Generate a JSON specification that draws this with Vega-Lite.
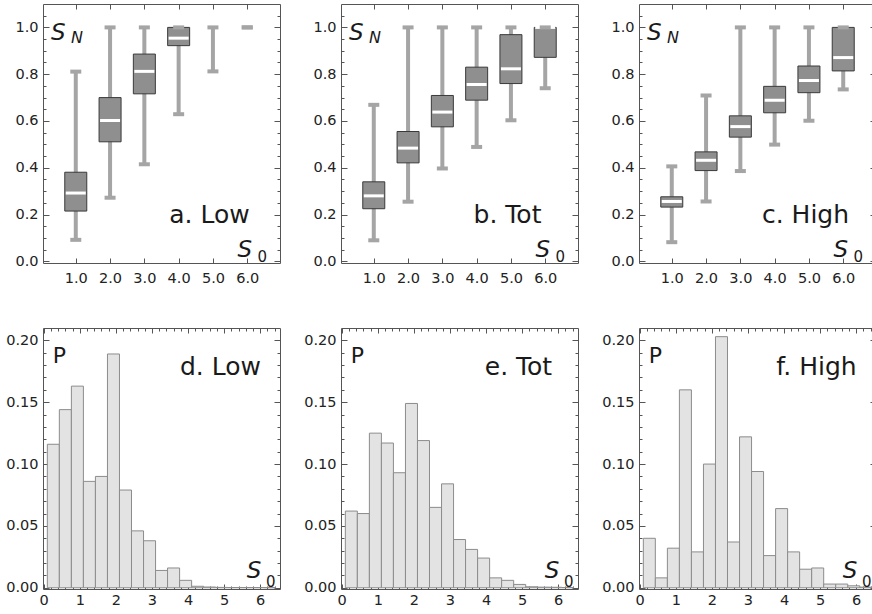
{
"$schema":"https://vega.github.io/schema/vega-lite/v6.json",
"padding":{"left":2,"top":3,"right":0,"bottom":0},
"background":"white",
"config":{"view":{"stroke":"#555","strokeWidth":1},
"axis":{"domain":false,"grid":false,"tickColor":"#555","tickWidth":1,"labelFont":"DejaVu Sans","labelFontSize":14.5,"labelColor":"#222","labelFlush":false,"labelOverlap":false,"zindex":1}},
"datasets":{
"box":[
{"panel":"Low","s0":1,"lo":0.092,"q1":0.215,"med":0.292,"q3":0.381,"hi":0.811},
{"panel":"Low","s0":2,"lo":0.272,"q1":0.511,"med":0.602,"q3":0.700,"hi":1.0},
{"panel":"Low","s0":3,"lo":0.415,"q1":0.716,"med":0.812,"q3":0.886,"hi":1.0},
{"panel":"Low","s0":4,"lo":0.629,"q1":0.922,"med":0.954,"q3":1.0,"hi":1.0},
{"panel":"Low","s0":5,"lo":0.812,"q1":null,"med":null,"q3":null,"hi":1.0},
{"panel":"Low","s0":6,"lo":1.0,"q1":null,"med":null,"q3":null,"hi":1.0},
{"panel":"Tot","s0":1,"lo":0.090,"q1":0.225,"med":0.280,"q3":0.340,"hi":0.669},
{"panel":"Tot","s0":2,"lo":0.255,"q1":0.421,"med":0.484,"q3":0.555,"hi":1.0},
{"panel":"Tot","s0":3,"lo":0.397,"q1":0.575,"med":0.638,"q3":0.709,"hi":1.0},
{"panel":"Tot","s0":4,"lo":0.489,"q1":0.689,"med":0.756,"q3":0.830,"hi":1.0},
{"panel":"Tot","s0":5,"lo":0.603,"q1":0.760,"med":0.823,"q3":0.969,"hi":1.0},
{"panel":"Tot","s0":6,"lo":0.740,"q1":0.872,"med":1.0,"q3":1.0,"hi":1.0},
{"panel":"High","s0":1,"lo":0.082,"q1":0.232,"med":0.256,"q3":0.276,"hi":0.406},
{"panel":"High","s0":2,"lo":0.256,"q1":0.388,"med":0.432,"q3":0.468,"hi":0.709},
{"panel":"High","s0":3,"lo":0.386,"q1":0.531,"med":0.576,"q3":0.622,"hi":1.0},
{"panel":"High","s0":4,"lo":0.499,"q1":0.635,"med":0.689,"q3":0.748,"hi":1.0},
{"panel":"High","s0":5,"lo":0.601,"q1":0.721,"med":0.773,"q3":0.835,"hi":1.0},
{"panel":"High","s0":6,"lo":0.735,"q1":0.814,"med":0.871,"q3":1.0,"hi":1.0}
],
"hist":[
{"panel":"Low","x0":0.1,"x1":0.433,"p":0.116},
{"panel":"Low","x0":0.433,"x1":0.767,"p":0.144},
{"panel":"Low","x0":0.767,"x1":1.1,"p":0.163},
{"panel":"Low","x0":1.1,"x1":1.433,"p":0.086},
{"panel":"Low","x0":1.433,"x1":1.767,"p":0.090},
{"panel":"Low","x0":1.767,"x1":2.1,"p":0.189},
{"panel":"Low","x0":2.1,"x1":2.433,"p":0.079},
{"panel":"Low","x0":2.433,"x1":2.767,"p":0.046},
{"panel":"Low","x0":2.767,"x1":3.1,"p":0.038},
{"panel":"Low","x0":3.1,"x1":3.433,"p":0.014},
{"panel":"Low","x0":3.433,"x1":3.767,"p":0.016},
{"panel":"Low","x0":3.767,"x1":4.1,"p":0.006},
{"panel":"Low","x0":4.1,"x1":4.433,"p":0.0012},
{"panel":"Low","x0":4.433,"x1":4.767,"p":0.0006},
{"panel":"Low","x0":4.767,"x1":5.1,"p":0.0003},
{"panel":"Low","x0":5.1,"x1":5.433,"p":0.0002},
{"panel":"Low","x0":5.433,"x1":5.767,"p":0.0002},
{"panel":"Low","x0":5.767,"x1":6.1,"p":0.0002},
{"panel":"Low","x0":6.1,"x1":6.433,"p":0.0001},
{"panel":"Tot","x0":0.1,"x1":0.433,"p":0.062},
{"panel":"Tot","x0":0.433,"x1":0.767,"p":0.060},
{"panel":"Tot","x0":0.767,"x1":1.1,"p":0.125},
{"panel":"Tot","x0":1.1,"x1":1.433,"p":0.117},
{"panel":"Tot","x0":1.433,"x1":1.767,"p":0.093},
{"panel":"Tot","x0":1.767,"x1":2.1,"p":0.149},
{"panel":"Tot","x0":2.1,"x1":2.433,"p":0.119},
{"panel":"Tot","x0":2.433,"x1":2.767,"p":0.065},
{"panel":"Tot","x0":2.767,"x1":3.1,"p":0.084},
{"panel":"Tot","x0":3.1,"x1":3.433,"p":0.039},
{"panel":"Tot","x0":3.433,"x1":3.767,"p":0.031},
{"panel":"Tot","x0":3.767,"x1":4.1,"p":0.024},
{"panel":"Tot","x0":4.1,"x1":4.433,"p":0.008},
{"panel":"Tot","x0":4.433,"x1":4.767,"p":0.006},
{"panel":"Tot","x0":4.767,"x1":5.1,"p":0.0027},
{"panel":"Tot","x0":5.1,"x1":5.433,"p":0.0008},
{"panel":"Tot","x0":5.433,"x1":5.767,"p":0.0005},
{"panel":"Tot","x0":5.767,"x1":6.1,"p":0.0004},
{"panel":"Tot","x0":6.1,"x1":6.433,"p":0.0002},
{"panel":"High","x0":0.1,"x1":0.433,"p":0.040},
{"panel":"High","x0":0.433,"x1":0.767,"p":0.008},
{"panel":"High","x0":0.767,"x1":1.1,"p":0.032},
{"panel":"High","x0":1.1,"x1":1.433,"p":0.160},
{"panel":"High","x0":1.433,"x1":1.767,"p":0.029},
{"panel":"High","x0":1.767,"x1":2.1,"p":0.100},
{"panel":"High","x0":2.1,"x1":2.433,"p":0.203},
{"panel":"High","x0":2.433,"x1":2.767,"p":0.037},
{"panel":"High","x0":2.767,"x1":3.1,"p":0.122},
{"panel":"High","x0":3.1,"x1":3.433,"p":0.094},
{"panel":"High","x0":3.433,"x1":3.767,"p":0.026},
{"panel":"High","x0":3.767,"x1":4.1,"p":0.064},
{"panel":"High","x0":4.1,"x1":4.433,"p":0.029},
{"panel":"High","x0":4.433,"x1":4.767,"p":0.015},
{"panel":"High","x0":4.767,"x1":5.1,"p":0.016},
{"panel":"High","x0":5.1,"x1":5.433,"p":0.003},
{"panel":"High","x0":5.433,"x1":5.767,"p":0.003},
{"panel":"High","x0":5.767,"x1":6.1,"p":0.0016},
{"panel":"High","x0":6.1,"x1":6.433,"p":0.0005}
]},
"spacing":38,
"vconcat":[
{"spacing":19,"hconcat":[
{"width":237,"height":259,"data":{"name":"box"},"transform":[{"filter":"datum.panel == 'Low'"}],
"resolve":{"axis":{"x":"independent","y":"independent"}},
"layer":[
{"mark":{"type":"rule","color":"#a5a5a5","strokeWidth":4},
"encoding":{"x":{"field":"s0","type":"quantitative","scale":{"domain":[0.19,6.81],"nice":false,"zero":false},"axis":{"orient":"bottom","values":[1,2,3,4,5,6],"format":".1f","tickSize":-5,"labelPadding":13,"title":null,"minExtent":25,"maxExtent":25}},
"y":{"field":"lo","type":"quantitative","scale":{"domain":[-0.007,1.1],"nice":false,"zero":false},"axis":{"orient":"left","values":[0,0.2,0.4,0.6,0.8,1],"format":".1f","tickSize":-6,"labelPadding":11,"title":null,"minExtent":40,"maxExtent":40}},
"y2":{"field":"hi"}}},
{"mark":{"type":"bar","size":22,"fill":"#8f8f8f","stroke":"#3a3a3a","strokeWidth":1},
"encoding":{"x":{"field":"s0","type":"quantitative","axis":{"orient":"top","values":[1,2,3,4,5,6],"labels":false,"tickSize":-5,"title":null,"minExtent":0,"maxExtent":0}},
"y":{"field":"q1","type":"quantitative","axis":{"orient":"right","values":[0,0.2,0.4,0.6,0.8,1],"labels":false,"tickSize":-6,"title":null,"minExtent":0,"maxExtent":0}},"y2":{"field":"q3"}}},
{"mark":{"type":"tick","orient":"horizontal","color":"#ffffff","opacity":1,"size":20,"thickness":3},
"encoding":{"x":{"field":"s0","type":"quantitative","axis":null},"y":{"field":"med","type":"quantitative","axis":{"orient":"left","values":[0.05,0.1,0.15,0.25,0.3,0.35,0.45,0.5,0.55,0.65,0.7,0.75,0.85,0.9,0.95,1.05],"labels":false,"tickSize":-3,"title":null,"minExtent":0,"maxExtent":0}}}},
{"mark":{"type":"tick","orient":"horizontal","color":"#a5a5a5","opacity":1,"size":11,"thickness":4},
"encoding":{"x":{"field":"s0","type":"quantitative","axis":null},"y":{"field":"lo","type":"quantitative","axis":{"orient":"right","values":[0.05,0.1,0.15,0.25,0.3,0.35,0.45,0.5,0.55,0.65,0.7,0.75,0.85,0.9,0.95,1.05],"labels":false,"tickSize":-3,"title":null,"minExtent":0,"maxExtent":0}}}},
{"mark":{"type":"tick","orient":"horizontal","color":"#a5a5a5","opacity":1,"size":11,"thickness":4},
"encoding":{"x":{"field":"s0","type":"quantitative","axis":null},"y":{"field":"hi","type":"quantitative","axis":null}}},
{"transform":[{"filter":"datum.s0 == 1"}],"mark":{"type":"text","text":"S","font":"DejaVu Sans","fontStyle":"italic","fontSize":23,"align":"left","baseline":"alphabetic","color":"#1a1a1a"},
"encoding":{"x":{"datum":0.28,"type":"quantitative","axis":null},"y":{"datum":0.946,"type":"quantitative","axis":null}}},
{"transform":[{"filter":"datum.s0 == 1"}],"mark":{"type":"text","text":"N","font":"DejaVu Sans","fontStyle":"italic","fontSize":16,"align":"left","baseline":"alphabetic","color":"#1a1a1a"},
"encoding":{"x":{"datum":0.86,"type":"quantitative","axis":null},"y":{"datum":0.932,"type":"quantitative","axis":null}}},
{"transform":[{"filter":"datum.s0 == 1"}],"mark":{"type":"text","text":"a. Low","font":"DejaVu Sans","fontSize":25,"align":"center","baseline":"alphabetic","color":"#1a1a1a"},
"encoding":{"x":{"datum":4.9,"type":"quantitative","axis":null},"y":{"datum":0.164,"type":"quantitative","axis":null}}},
{"transform":[{"filter":"datum.s0 == 1"}],"mark":{"type":"text","text":"S","font":"DejaVu Sans","fontStyle":"italic","fontSize":23,"align":"left","baseline":"alphabetic","color":"#1a1a1a"},
"encoding":{"x":{"datum":5.72,"type":"quantitative","axis":null},"y":{"datum":0.018,"type":"quantitative","axis":null}}},
{"transform":[{"filter":"datum.s0 == 1"}],"mark":{"type":"text","text":"0","font":"DejaVu Sans","fontSize":15,"align":"left","baseline":"alphabetic","color":"#1a1a1a"},
"encoding":{"x":{"datum":6.3,"type":"quantitative","axis":null},"y":{"datum":-0.003,"type":"quantitative","axis":null}}}
]},
{"width":237,"height":259,"data":{"name":"box"},"transform":[{"filter":"datum.panel == 'Tot'"}],
"resolve":{"axis":{"x":"independent","y":"independent"}},
"layer":[
{"mark":{"type":"rule","color":"#a5a5a5","strokeWidth":4},
"encoding":{"x":{"field":"s0","type":"quantitative","scale":{"domain":[0.19,6.81],"nice":false,"zero":false},"axis":{"orient":"bottom","values":[1,2,3,4,5,6],"format":".1f","tickSize":-5,"labelPadding":13,"title":null,"minExtent":25,"maxExtent":25}},
"y":{"field":"lo","type":"quantitative","scale":{"domain":[-0.007,1.1],"nice":false,"zero":false},"axis":{"orient":"left","values":[0,0.2,0.4,0.6,0.8,1],"format":".1f","tickSize":-6,"labelPadding":11,"title":null,"minExtent":40,"maxExtent":40}},
"y2":{"field":"hi"}}},
{"mark":{"type":"bar","size":22,"fill":"#8f8f8f","stroke":"#3a3a3a","strokeWidth":1},
"encoding":{"x":{"field":"s0","type":"quantitative","axis":{"orient":"top","values":[1,2,3,4,5,6],"labels":false,"tickSize":-5,"title":null,"minExtent":0,"maxExtent":0}},
"y":{"field":"q1","type":"quantitative","axis":{"orient":"right","values":[0,0.2,0.4,0.6,0.8,1],"labels":false,"tickSize":-6,"title":null,"minExtent":0,"maxExtent":0}},"y2":{"field":"q3"}}},
{"mark":{"type":"tick","orient":"horizontal","color":"#ffffff","opacity":1,"size":20,"thickness":3},
"encoding":{"x":{"field":"s0","type":"quantitative","axis":null},"y":{"field":"med","type":"quantitative","axis":{"orient":"left","values":[0.05,0.1,0.15,0.25,0.3,0.35,0.45,0.5,0.55,0.65,0.7,0.75,0.85,0.9,0.95,1.05],"labels":false,"tickSize":-3,"title":null,"minExtent":0,"maxExtent":0}}}},
{"mark":{"type":"tick","orient":"horizontal","color":"#a5a5a5","opacity":1,"size":11,"thickness":4},
"encoding":{"x":{"field":"s0","type":"quantitative","axis":null},"y":{"field":"lo","type":"quantitative","axis":{"orient":"right","values":[0.05,0.1,0.15,0.25,0.3,0.35,0.45,0.5,0.55,0.65,0.7,0.75,0.85,0.9,0.95,1.05],"labels":false,"tickSize":-3,"title":null,"minExtent":0,"maxExtent":0}}}},
{"mark":{"type":"tick","orient":"horizontal","color":"#a5a5a5","opacity":1,"size":11,"thickness":4},
"encoding":{"x":{"field":"s0","type":"quantitative","axis":null},"y":{"field":"hi","type":"quantitative","axis":null}}},
{"transform":[{"filter":"datum.s0 == 1"}],"mark":{"type":"text","text":"S","font":"DejaVu Sans","fontStyle":"italic","fontSize":23,"align":"left","baseline":"alphabetic","color":"#1a1a1a"},
"encoding":{"x":{"datum":0.28,"type":"quantitative","axis":null},"y":{"datum":0.946,"type":"quantitative","axis":null}}},
{"transform":[{"filter":"datum.s0 == 1"}],"mark":{"type":"text","text":"N","font":"DejaVu Sans","fontStyle":"italic","fontSize":16,"align":"left","baseline":"alphabetic","color":"#1a1a1a"},
"encoding":{"x":{"datum":0.86,"type":"quantitative","axis":null},"y":{"datum":0.932,"type":"quantitative","axis":null}}},
{"transform":[{"filter":"datum.s0 == 1"}],"mark":{"type":"text","text":"b. Tot","font":"DejaVu Sans","fontSize":25,"align":"center","baseline":"alphabetic","color":"#1a1a1a"},
"encoding":{"x":{"datum":4.9,"type":"quantitative","axis":null},"y":{"datum":0.164,"type":"quantitative","axis":null}}},
{"transform":[{"filter":"datum.s0 == 1"}],"mark":{"type":"text","text":"S","font":"DejaVu Sans","fontStyle":"italic","fontSize":23,"align":"left","baseline":"alphabetic","color":"#1a1a1a"},
"encoding":{"x":{"datum":5.72,"type":"quantitative","axis":null},"y":{"datum":0.018,"type":"quantitative","axis":null}}},
{"transform":[{"filter":"datum.s0 == 1"}],"mark":{"type":"text","text":"0","font":"DejaVu Sans","fontSize":15,"align":"left","baseline":"alphabetic","color":"#1a1a1a"},
"encoding":{"x":{"datum":6.3,"type":"quantitative","axis":null},"y":{"datum":-0.003,"type":"quantitative","axis":null}}}
]},
{"width":237,"height":259,"data":{"name":"box"},"transform":[{"filter":"datum.panel == 'High'"}],
"resolve":{"axis":{"x":"independent","y":"independent"}},
"layer":[
{"mark":{"type":"rule","color":"#a5a5a5","strokeWidth":4},
"encoding":{"x":{"field":"s0","type":"quantitative","scale":{"domain":[0.19,6.81],"nice":false,"zero":false},"axis":{"orient":"bottom","values":[1,2,3,4,5,6],"format":".1f","tickSize":-5,"labelPadding":13,"title":null,"minExtent":25,"maxExtent":25}},
"y":{"field":"lo","type":"quantitative","scale":{"domain":[-0.007,1.1],"nice":false,"zero":false},"axis":{"orient":"left","values":[0,0.2,0.4,0.6,0.8,1],"format":".1f","tickSize":-6,"labelPadding":11,"title":null,"minExtent":40,"maxExtent":40}},
"y2":{"field":"hi"}}},
{"mark":{"type":"bar","size":22,"fill":"#8f8f8f","stroke":"#3a3a3a","strokeWidth":1},
"encoding":{"x":{"field":"s0","type":"quantitative","axis":{"orient":"top","values":[1,2,3,4,5,6],"labels":false,"tickSize":-5,"title":null,"minExtent":0,"maxExtent":0}},
"y":{"field":"q1","type":"quantitative","axis":{"orient":"right","values":[0,0.2,0.4,0.6,0.8,1],"labels":false,"tickSize":-6,"title":null,"minExtent":0,"maxExtent":0}},"y2":{"field":"q3"}}},
{"mark":{"type":"tick","orient":"horizontal","color":"#ffffff","opacity":1,"size":20,"thickness":3},
"encoding":{"x":{"field":"s0","type":"quantitative","axis":null},"y":{"field":"med","type":"quantitative","axis":{"orient":"left","values":[0.05,0.1,0.15,0.25,0.3,0.35,0.45,0.5,0.55,0.65,0.7,0.75,0.85,0.9,0.95,1.05],"labels":false,"tickSize":-3,"title":null,"minExtent":0,"maxExtent":0}}}},
{"mark":{"type":"tick","orient":"horizontal","color":"#a5a5a5","opacity":1,"size":11,"thickness":4},
"encoding":{"x":{"field":"s0","type":"quantitative","axis":null},"y":{"field":"lo","type":"quantitative","axis":{"orient":"right","values":[0.05,0.1,0.15,0.25,0.3,0.35,0.45,0.5,0.55,0.65,0.7,0.75,0.85,0.9,0.95,1.05],"labels":false,"tickSize":-3,"title":null,"minExtent":0,"maxExtent":0}}}},
{"mark":{"type":"tick","orient":"horizontal","color":"#a5a5a5","opacity":1,"size":11,"thickness":4},
"encoding":{"x":{"field":"s0","type":"quantitative","axis":null},"y":{"field":"hi","type":"quantitative","axis":null}}},
{"transform":[{"filter":"datum.s0 == 1"}],"mark":{"type":"text","text":"S","font":"DejaVu Sans","fontStyle":"italic","fontSize":23,"align":"left","baseline":"alphabetic","color":"#1a1a1a"},
"encoding":{"x":{"datum":0.28,"type":"quantitative","axis":null},"y":{"datum":0.946,"type":"quantitative","axis":null}}},
{"transform":[{"filter":"datum.s0 == 1"}],"mark":{"type":"text","text":"N","font":"DejaVu Sans","fontStyle":"italic","fontSize":16,"align":"left","baseline":"alphabetic","color":"#1a1a1a"},
"encoding":{"x":{"datum":0.86,"type":"quantitative","axis":null},"y":{"datum":0.932,"type":"quantitative","axis":null}}},
{"transform":[{"filter":"datum.s0 == 1"}],"mark":{"type":"text","text":"c. High","font":"DejaVu Sans","fontSize":25,"align":"center","baseline":"alphabetic","color":"#1a1a1a"},
"encoding":{"x":{"datum":4.9,"type":"quantitative","axis":null},"y":{"datum":0.164,"type":"quantitative","axis":null}}},
{"transform":[{"filter":"datum.s0 == 1"}],"mark":{"type":"text","text":"S","font":"DejaVu Sans","fontStyle":"italic","fontSize":23,"align":"left","baseline":"alphabetic","color":"#1a1a1a"},
"encoding":{"x":{"datum":5.72,"type":"quantitative","axis":null},"y":{"datum":0.018,"type":"quantitative","axis":null}}},
{"transform":[{"filter":"datum.s0 == 1"}],"mark":{"type":"text","text":"0","font":"DejaVu Sans","fontSize":15,"align":"left","baseline":"alphabetic","color":"#1a1a1a"},
"encoding":{"x":{"datum":6.3,"type":"quantitative","axis":null},"y":{"datum":-0.003,"type":"quantitative","axis":null}}}
]}
]},
{"spacing":19,"hconcat":[
{"width":237,"height":261,"data":{"name":"hist"},"transform":[{"filter":"datum.panel == 'Low'"}],
"resolve":{"axis":{"x":"independent","y":"independent"}},
"layer":[
{"mark":{"type":"rect","fill":"#e3e3e3","stroke":"#8c8c8c","strokeWidth":1,"clip":true},
"encoding":{"x":{"field":"x0","type":"quantitative","scale":{"domain":[-0.02,6.55],"nice":false,"zero":false},"axis":{"orient":"bottom","values":[0,1,2,3,4,5,6],"format":"d","tickSize":-5,"labelPadding":9,"title":null,"minExtent":25,"maxExtent":25}},
"x2":{"field":"x1"},
"y":{"field":"p","type":"quantitative","scale":{"domain":[-0.001,0.21],"nice":false,"zero":false},"axis":{"orient":"left","values":[0,0.05,0.1,0.15,0.2],"format":".2f","tickSize":-6,"labelPadding":11,"title":null,"minExtent":40,"maxExtent":40}},
"y2":{"datum":0}}},
{"transform":[{"filter":"datum.x0 == 0.1"}],"mark":{"type":"text","text":"P","font":"DejaVu Sans","fontSize":22,"align":"left","baseline":"alphabetic","color":"#1a1a1a"},
"encoding":{"x":{"datum":0.25,"type":"quantitative","axis":{"orient":"top","values":[0,1,2,3,4,5,6],"labels":false,"tickSize":-5,"title":null,"minExtent":0,"maxExtent":0}},"y":{"datum":0.182,"type":"quantitative","axis":{"orient":"right","values":[0,0.05,0.1,0.15,0.2],"labels":false,"tickSize":-6,"title":null,"minExtent":0,"maxExtent":0}}}},
{"transform":[{"filter":"datum.x0 == 0.1"}],"mark":{"type":"text","text":"d. Low","font":"DejaVu Sans","fontSize":25,"align":"center","baseline":"alphabetic","color":"#1a1a1a"},
"encoding":{"x":{"datum":4.9,"type":"quantitative","axis":{"orient":"bottom","values":[0.2,0.4,0.6,0.8,1.2,1.4,1.6,1.8,2.2,2.4,2.6,2.8,3.2,3.4,3.6,3.8,4.2,4.4,4.6,4.8,5.2,5.4,5.6,5.8,6.2,6.4],"labels":false,"tickSize":-3,"title":null,"minExtent":0,"maxExtent":0}},"y":{"datum":0.172,"type":"quantitative","axis":{"orient":"left","values":[0.01,0.02,0.03,0.04,0.06,0.07,0.08,0.09,0.11,0.12,0.13,0.14,0.16,0.17,0.18,0.19],"labels":false,"tickSize":-3,"title":null,"minExtent":0,"maxExtent":0}}}},
{"transform":[{"filter":"datum.x0 == 0.1"}],"mark":{"type":"text","text":"S","font":"DejaVu Sans","fontStyle":"italic","fontSize":23,"align":"left","baseline":"alphabetic","color":"#1a1a1a"},
"encoding":{"x":{"datum":5.63,"type":"quantitative","axis":{"orient":"top","values":[0.2,0.4,0.6,0.8,1.2,1.4,1.6,1.8,2.2,2.4,2.6,2.8,3.2,3.4,3.6,3.8,4.2,4.4,4.6,4.8,5.2,5.4,5.6,5.8,6.2,6.4],"labels":false,"tickSize":-3,"title":null,"minExtent":0,"maxExtent":0}},"y":{"datum":0.0075,"type":"quantitative","axis":{"orient":"right","values":[0.01,0.02,0.03,0.04,0.06,0.07,0.08,0.09,0.11,0.12,0.13,0.14,0.16,0.17,0.18,0.19],"labels":false,"tickSize":-3,"title":null,"minExtent":0,"maxExtent":0}}}},
{"transform":[{"filter":"datum.x0 == 0.1"}],"mark":{"type":"text","text":"0","font":"DejaVu Sans","fontSize":15,"align":"left","baseline":"alphabetic","color":"#1a1a1a"},
"encoding":{"x":{"datum":6.16,"type":"quantitative","axis":null},"y":{"datum":0.0003,"type":"quantitative","axis":null}}}
]},
{"width":237,"height":261,"data":{"name":"hist"},"transform":[{"filter":"datum.panel == 'Tot'"}],
"resolve":{"axis":{"x":"independent","y":"independent"}},
"layer":[
{"mark":{"type":"rect","fill":"#e3e3e3","stroke":"#8c8c8c","strokeWidth":1,"clip":true},
"encoding":{"x":{"field":"x0","type":"quantitative","scale":{"domain":[-0.02,6.55],"nice":false,"zero":false},"axis":{"orient":"bottom","values":[0,1,2,3,4,5,6],"format":"d","tickSize":-5,"labelPadding":9,"title":null,"minExtent":25,"maxExtent":25}},
"x2":{"field":"x1"},
"y":{"field":"p","type":"quantitative","scale":{"domain":[-0.001,0.21],"nice":false,"zero":false},"axis":{"orient":"left","values":[0,0.05,0.1,0.15,0.2],"format":".2f","tickSize":-6,"labelPadding":11,"title":null,"minExtent":40,"maxExtent":40}},
"y2":{"datum":0}}},
{"transform":[{"filter":"datum.x0 == 0.1"}],"mark":{"type":"text","text":"P","font":"DejaVu Sans","fontSize":22,"align":"left","baseline":"alphabetic","color":"#1a1a1a"},
"encoding":{"x":{"datum":0.25,"type":"quantitative","axis":{"orient":"top","values":[0,1,2,3,4,5,6],"labels":false,"tickSize":-5,"title":null,"minExtent":0,"maxExtent":0}},"y":{"datum":0.182,"type":"quantitative","axis":{"orient":"right","values":[0,0.05,0.1,0.15,0.2],"labels":false,"tickSize":-6,"title":null,"minExtent":0,"maxExtent":0}}}},
{"transform":[{"filter":"datum.x0 == 0.1"}],"mark":{"type":"text","text":"e. Tot","font":"DejaVu Sans","fontSize":25,"align":"center","baseline":"alphabetic","color":"#1a1a1a"},
"encoding":{"x":{"datum":4.9,"type":"quantitative","axis":{"orient":"bottom","values":[0.2,0.4,0.6,0.8,1.2,1.4,1.6,1.8,2.2,2.4,2.6,2.8,3.2,3.4,3.6,3.8,4.2,4.4,4.6,4.8,5.2,5.4,5.6,5.8,6.2,6.4],"labels":false,"tickSize":-3,"title":null,"minExtent":0,"maxExtent":0}},"y":{"datum":0.172,"type":"quantitative","axis":{"orient":"left","values":[0.01,0.02,0.03,0.04,0.06,0.07,0.08,0.09,0.11,0.12,0.13,0.14,0.16,0.17,0.18,0.19],"labels":false,"tickSize":-3,"title":null,"minExtent":0,"maxExtent":0}}}},
{"transform":[{"filter":"datum.x0 == 0.1"}],"mark":{"type":"text","text":"S","font":"DejaVu Sans","fontStyle":"italic","fontSize":23,"align":"left","baseline":"alphabetic","color":"#1a1a1a"},
"encoding":{"x":{"datum":5.63,"type":"quantitative","axis":{"orient":"top","values":[0.2,0.4,0.6,0.8,1.2,1.4,1.6,1.8,2.2,2.4,2.6,2.8,3.2,3.4,3.6,3.8,4.2,4.4,4.6,4.8,5.2,5.4,5.6,5.8,6.2,6.4],"labels":false,"tickSize":-3,"title":null,"minExtent":0,"maxExtent":0}},"y":{"datum":0.0075,"type":"quantitative","axis":{"orient":"right","values":[0.01,0.02,0.03,0.04,0.06,0.07,0.08,0.09,0.11,0.12,0.13,0.14,0.16,0.17,0.18,0.19],"labels":false,"tickSize":-3,"title":null,"minExtent":0,"maxExtent":0}}}},
{"transform":[{"filter":"datum.x0 == 0.1"}],"mark":{"type":"text","text":"0","font":"DejaVu Sans","fontSize":15,"align":"left","baseline":"alphabetic","color":"#1a1a1a"},
"encoding":{"x":{"datum":6.16,"type":"quantitative","axis":null},"y":{"datum":0.0003,"type":"quantitative","axis":null}}}
]},
{"width":237,"height":261,"data":{"name":"hist"},"transform":[{"filter":"datum.panel == 'High'"}],
"resolve":{"axis":{"x":"independent","y":"independent"}},
"layer":[
{"mark":{"type":"rect","fill":"#e3e3e3","stroke":"#8c8c8c","strokeWidth":1,"clip":true},
"encoding":{"x":{"field":"x0","type":"quantitative","scale":{"domain":[-0.02,6.55],"nice":false,"zero":false},"axis":{"orient":"bottom","values":[0,1,2,3,4,5,6],"format":"d","tickSize":-5,"labelPadding":9,"title":null,"minExtent":25,"maxExtent":25}},
"x2":{"field":"x1"},
"y":{"field":"p","type":"quantitative","scale":{"domain":[-0.001,0.21],"nice":false,"zero":false},"axis":{"orient":"left","values":[0,0.05,0.1,0.15,0.2],"format":".2f","tickSize":-6,"labelPadding":11,"title":null,"minExtent":40,"maxExtent":40}},
"y2":{"datum":0}}},
{"transform":[{"filter":"datum.x0 == 0.1"}],"mark":{"type":"text","text":"P","font":"DejaVu Sans","fontSize":22,"align":"left","baseline":"alphabetic","color":"#1a1a1a"},
"encoding":{"x":{"datum":0.25,"type":"quantitative","axis":{"orient":"top","values":[0,1,2,3,4,5,6],"labels":false,"tickSize":-5,"title":null,"minExtent":0,"maxExtent":0}},"y":{"datum":0.182,"type":"quantitative","axis":{"orient":"right","values":[0,0.05,0.1,0.15,0.2],"labels":false,"tickSize":-6,"title":null,"minExtent":0,"maxExtent":0}}}},
{"transform":[{"filter":"datum.x0 == 0.1"}],"mark":{"type":"text","text":"f. High","font":"DejaVu Sans","fontSize":25,"align":"center","baseline":"alphabetic","color":"#1a1a1a"},
"encoding":{"x":{"datum":4.9,"type":"quantitative","axis":{"orient":"bottom","values":[0.2,0.4,0.6,0.8,1.2,1.4,1.6,1.8,2.2,2.4,2.6,2.8,3.2,3.4,3.6,3.8,4.2,4.4,4.6,4.8,5.2,5.4,5.6,5.8,6.2,6.4],"labels":false,"tickSize":-3,"title":null,"minExtent":0,"maxExtent":0}},"y":{"datum":0.172,"type":"quantitative","axis":{"orient":"left","values":[0.01,0.02,0.03,0.04,0.06,0.07,0.08,0.09,0.11,0.12,0.13,0.14,0.16,0.17,0.18,0.19],"labels":false,"tickSize":-3,"title":null,"minExtent":0,"maxExtent":0}}}},
{"transform":[{"filter":"datum.x0 == 0.1"}],"mark":{"type":"text","text":"S","font":"DejaVu Sans","fontStyle":"italic","fontSize":23,"align":"left","baseline":"alphabetic","color":"#1a1a1a"},
"encoding":{"x":{"datum":5.63,"type":"quantitative","axis":{"orient":"top","values":[0.2,0.4,0.6,0.8,1.2,1.4,1.6,1.8,2.2,2.4,2.6,2.8,3.2,3.4,3.6,3.8,4.2,4.4,4.6,4.8,5.2,5.4,5.6,5.8,6.2,6.4],"labels":false,"tickSize":-3,"title":null,"minExtent":0,"maxExtent":0}},"y":{"datum":0.0075,"type":"quantitative","axis":{"orient":"right","values":[0.01,0.02,0.03,0.04,0.06,0.07,0.08,0.09,0.11,0.12,0.13,0.14,0.16,0.17,0.18,0.19],"labels":false,"tickSize":-3,"title":null,"minExtent":0,"maxExtent":0}}}},
{"transform":[{"filter":"datum.x0 == 0.1"}],"mark":{"type":"text","text":"0","font":"DejaVu Sans","fontSize":15,"align":"left","baseline":"alphabetic","color":"#1a1a1a"},
"encoding":{"x":{"datum":6.16,"type":"quantitative","axis":null},"y":{"datum":0.0003,"type":"quantitative","axis":null}}}
]}
]}
]
}
